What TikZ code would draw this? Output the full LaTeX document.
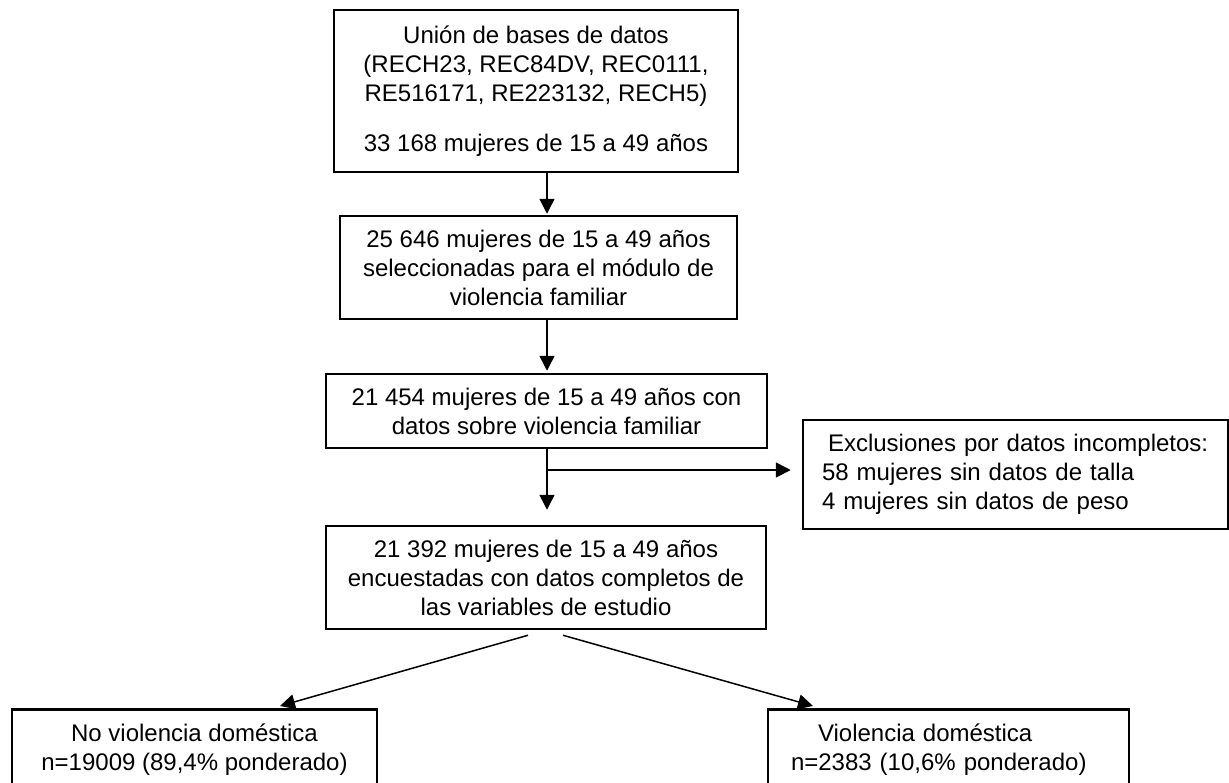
\documentclass[tikz,border=0pt]{standalone}
\usepackage{fontspec}
\setmainfont{Liberation Sans}
\usetikzlibrary{arrows.meta}

\tikzset{
  caja/.style={draw, line width=2.5pt, align=center, inner sep=8pt,
    font=\fontsize{24}{29}\selectfont},
  flecha/.style={line width=1.5pt}
}

\begin{document}
\begin{tikzpicture}[x=1pt, y=-1pt, ->, >={Triangle[length=15pt,width=15pt]}]
\useasboundingbox (0,0) rectangle (1229,782);
% Nodos
\node [caja, minimum width=404pt, minimum height=162pt] (union) at (536,91)
  {Unión de bases de datos\\(RECH23, REC84DV, REC0111,\\RE516171, RE223132, RECH5)\\[21pt]33 168 mujeres de 15 a 49 años};
\node [caja, minimum width=397pt, minimum height=103pt] (modulo) at (538.5,267.5)
  {25 646 mujeres de 15 a 49 años\\seleccionadas para el módulo de\\violencia familiar};
\node [caja, minimum width=441pt, minimum height=74pt] (familiar) at (546.5,411)
  {21 454 mujeres de 15 a 49 años con\\datos sobre violencia familiar};
\node [caja, align=left, inner xsep=19pt, text width=387pt, minimum height=109pt] (excl) at (1015.5,474.5)
  {\hspace*{6pt}Exclusiones por datos incompletos:\\58 mujeres sin datos de talla\\4 mujeres sin datos de peso};
\node [caja, minimum width=440pt, minimum height=103pt] (estudio) at (546,577.5)
  {21 392 mujeres de 15 a 49 años\\encuestadas con datos completos de\\las variables de estudio};
\node [caja, anchor=north, minimum width=365pt, minimum height=80pt] (noviol) at (194.5,708)
  {No violencia doméstica\\n=19009 (89,4\% ponderado)};
\node [caja, anchor=north, align=left, inner xsep=23pt, text width=315pt, minimum height=80pt] (viol) at (948.5,708)
  {\hspace*{27pt}Violencia doméstica\\n=2383 (10,6\% ponderado)};
% Ejes
\coordinate (eje) at (547,0);
\coordinate (rama) at (547,470);
% Flechas
\draw [flecha, shorten >=1pt] (union.south -| eje) -- (modulo.north -| eje);
\draw [flecha, shorten >=2pt] (modulo.south -| eje) -- (familiar.north -| eje);
\draw [flecha, shorten >=15pt] (familiar.south -| eje) -- (estudio.north -| eje);
\draw [flecha, shorten >=11pt] (rama) -- (rama -| excl.west);
\draw [flecha] ([xshift=-18pt,yshift=-5pt]estudio.south) -- ([xshift=85.5pt,yshift=2pt]noviol.north);
\draw [flecha] ([xshift=17pt,yshift=-5pt]estudio.south) -- ([xshift=-135.5pt,yshift=2pt]viol.north);
\end{tikzpicture}
\end{document}
